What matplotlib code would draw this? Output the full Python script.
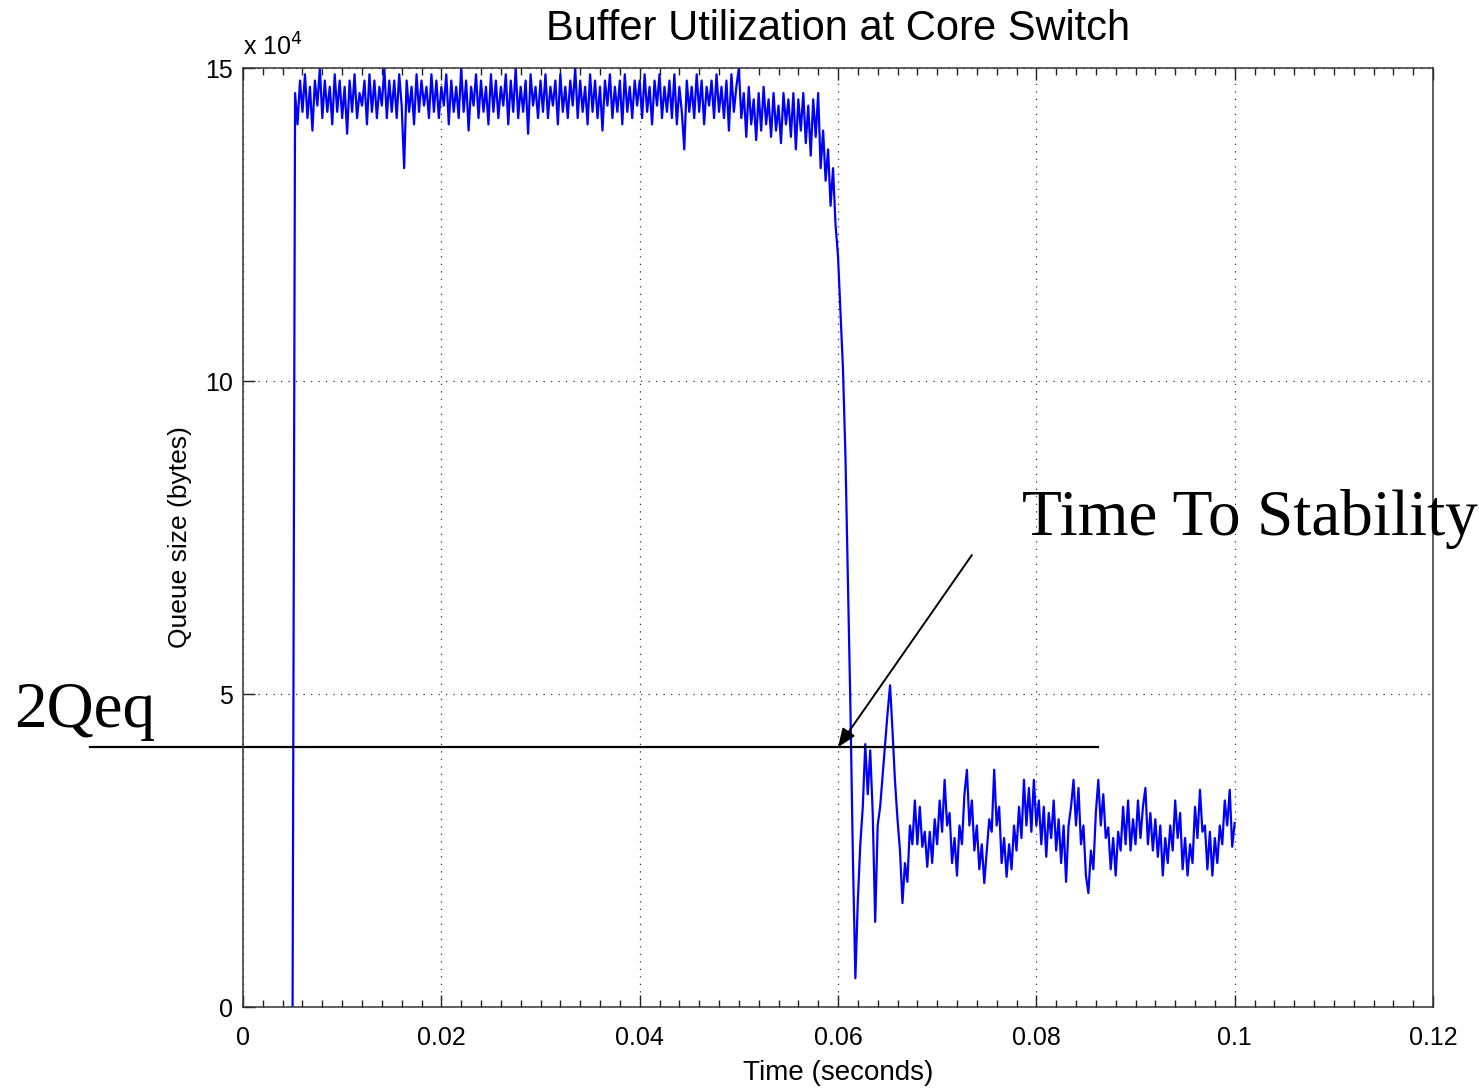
import numpy as np
import matplotlib
matplotlib.use("Agg")
import matplotlib.pyplot as plt
from matplotlib.ticker import MultipleLocator

# queue size at the core switch, in units of 10^4 bytes,
# one sample every 0.25 ms from t = 0.005 s to t = 0.1 s
t_start = 0.005
t_step = 0.00025
queue = [
    # 0.005 - 0.010
    0.0, 14.6, 14.1, 14.8, 14.3, 14.9, 14.2, 14.7, 14.0, 14.8,
    14.4, 15.0, 14.2, 14.8, 14.3, 14.7, 14.1, 14.9, 14.3, 14.8,
    # 0.010 - 0.015
    14.2, 14.7, 13.95, 14.8, 14.3, 14.9, 14.2, 14.6, 14.4, 14.8,
    14.1, 14.9, 14.3, 14.8, 14.2, 14.7, 14.4, 15.0, 14.2, 14.8,
    # 0.015 - 0.020
    14.3, 14.8, 14.2, 14.9, 14.4, 13.4, 14.8, 14.3, 14.7, 14.1,
    14.9, 14.3, 14.8, 14.4, 14.7, 14.2, 14.9, 14.3, 14.8, 14.2,
    # 0.020 - 0.025
    14.7, 14.4, 14.9, 14.1, 14.8, 14.3, 14.7, 14.2, 15.0, 14.3,
    14.8, 14.0, 14.7, 14.4, 14.9, 14.2, 14.8, 14.3, 14.7, 14.1,
    # 0.025 - 0.030
    14.9, 14.3, 14.8, 14.2, 14.7, 14.4, 14.9, 14.1, 14.8, 14.3,
    15.0, 14.2, 14.7, 14.3, 14.8, 13.95, 14.9, 14.4, 14.7, 14.2,
    # 0.030 - 0.035
    14.8, 14.3, 14.9, 14.2, 14.7, 14.4, 14.8, 14.1, 14.9, 14.3,
    14.7, 14.2, 14.8, 14.4, 15.0, 14.2, 14.8, 14.3, 14.7, 14.1,
    # 0.035 - 0.040
    14.9, 14.3, 14.8, 14.2, 14.7, 14.0, 14.8, 14.4, 14.9, 14.2,
    14.7, 14.3, 14.8, 14.1, 14.9, 14.3, 14.7, 14.2, 14.8, 14.4,
    # 0.040 - 0.045
    14.8, 14.2, 14.9, 14.3, 14.7, 14.1, 14.8, 14.4, 14.9, 14.2,
    14.7, 14.3, 14.8, 14.2, 14.9, 14.1, 14.7, 14.3, 13.7, 14.8,
    # 0.045 - 0.050
    14.3, 14.7, 14.2, 14.9, 14.3, 14.8, 14.1, 14.7, 14.4, 14.8,
    14.2, 14.9, 14.3, 14.7, 14.2, 14.8, 14.0, 14.9, 14.3, 14.7,
    # 0.050 - 0.055
    15.0, 14.2, 14.6, 13.9, 14.7, 14.1, 14.5, 13.85, 14.6, 14.0,
    14.7, 14.1, 14.5, 13.9, 14.6, 14.0, 14.4, 13.8, 14.6, 14.1,
    # 0.055 - 0.060
    14.5, 13.9, 14.6, 13.7, 14.5, 14.0, 14.6, 13.8, 14.4, 13.6,
    14.5, 13.9, 14.6, 13.4, 14.0, 13.2, 13.7, 12.8, 13.4, 12.5,
    # 0.060 - 0.065
    12.0, 11.1, 10.2, 8.8, 6.8, 4.8, 2.4, 0.46, 1.7, 2.6,
    3.2, 4.2, 3.4, 4.1, 3.1, 1.36, 2.9, 3.2, 3.7, 4.2,
    # 0.065 - 0.070
    4.7, 5.14, 4.4, 3.6, 3.0, 2.5, 1.66, 2.3, 2.0, 2.9,
    2.6, 3.3, 2.6, 3.2, 2.56, 2.8, 2.24, 2.8, 2.3, 3.0,
    # 0.070 - 0.075
    2.6, 3.3, 2.8, 3.63, 2.9, 3.1, 2.3, 2.7, 2.1, 2.9,
    2.6, 3.4, 3.79, 2.9, 3.3, 2.5, 2.9, 2.2, 2.6, 1.98,
    # 0.075 - 0.080
    2.5, 3.0, 2.8, 3.79, 2.9, 3.2, 2.3, 2.7, 2.08, 2.6,
    2.2, 2.9, 2.5, 3.2, 2.7, 3.63, 2.9, 3.5, 2.8, 3.63,
    # 0.080 - 0.085
    2.9, 3.3, 2.6, 3.2, 2.4, 3.1, 2.7, 3.3, 2.5, 3.0,
    2.3, 2.9, 2.0, 2.9, 3.2, 3.63, 2.9, 3.5, 2.6, 2.9,
    # 0.085 - 0.090
    2.1, 1.82, 2.5, 2.2, 3.1, 3.63, 2.9, 3.4, 2.7, 2.87,
    2.2, 2.7, 2.1, 2.8, 2.5, 3.2, 2.6, 3.3, 2.5, 3.0,
    # 0.090 - 0.095
    2.6, 3.3, 2.7, 3.2, 3.5, 2.6, 3.1, 2.5, 3.0, 2.4,
    2.9, 2.1, 2.7, 2.3, 2.9, 2.5, 3.3, 2.7, 3.1, 2.2,
    # 0.095 - 0.100
    2.7, 2.1, 2.6, 2.3, 3.2, 2.7, 3.47, 2.8, 2.9, 2.2,
    2.8, 2.1, 2.7, 2.3, 2.9, 2.6, 3.3, 2.9, 3.47, 2.56,
    2.94,
]
time = t_start + t_step * np.arange(len(queue))

x_ticks = [0, 0.02, 0.04, 0.06, 0.08, 0.1, 0.12]
x_tick_labels = ["0", "0.02", "0.04", "0.06", "0.08", "0.1", "0.12"]
y_ticks = [0, 5, 10, 15]

# annotation positions (data units)
qeq_level = 4.15
qeq_line_x = [-0.0154, 0.0862]
arrow_tail = (0.0735, 7.22)
arrow_head = (0.0600, 4.15)

sans = "Liberation Sans"
serif = "Liberation Serif"

fig = plt.figure(figsize=(14.79, 10.90), dpi=100)
ax = fig.add_axes([0.1643, 0.0761, 0.8046, 0.8615])

ax.plot(time, queue, color="#0000ff", linewidth=1.6)

ax.set_xlim(0, 0.12)
ax.set_ylim(0, 15)
ax.set_xticks(x_ticks)
ax.set_xticklabels(x_tick_labels, fontfamily=sans, fontsize=18)
ax.set_yticks(y_ticks)
ax.set_yticklabels([str(v) for v in y_ticks], fontfamily=sans, fontsize=18)
ax.xaxis.set_minor_locator(MultipleLocator(0.002))

ax.tick_params(axis="both", which="both", direction="in", top=True, right=False, color="#222222")
ax.tick_params(axis="both", which="major", length=8.5, width=1)
ax.tick_params(axis="x", which="minor", length=5, width=1)
ax.tick_params(axis="x", which="major", pad=14)
ax.tick_params(axis="y", which="major", pad=7)
for s in ax.spines.values():
    s.set_color("#333333")
    s.set_linewidth(1.1)

ax.grid(True, which="major", color="#333333", linestyle=(0, (1, 5)), linewidth=0.9)

ax.set_xlabel("Time (seconds)", fontfamily=sans, fontsize=20, labelpad=7)
ax.set_ylabel("Queue size (bytes)", fontfamily=sans, fontsize=19, labelpad=10)

fig.text(838 / 1479, 1 - 40 / 1090, "Buffer Utilization at Core Switch",
         ha="center", va="baseline", fontfamily=sans, fontsize=30)
fig.text(243 / 1479, 1 - 56 / 1090, r"x 10$^{4}$", ha="left", va="baseline",
         fontfamily=sans, fontsize=18)

# 2Qeq level line and "time to stability" arrow
ax.plot(qeq_line_x, [qeq_level, qeq_level], color="black", linewidth=1.6, clip_on=False)
ax.annotate("", xy=arrow_head, xytext=arrow_tail,
            arrowprops=dict(arrowstyle="-|>,head_length=0.45,head_width=0.18",
                            color="black", lw=1.4, mutation_scale=25,
                            shrinkA=0, shrinkB=0))
fig.text(14 / 1479, 1 - 727 / 1090, "2Qeq", ha="left", va="baseline",
         fontfamily=serif, fontsize=47)
fig.text(1022 / 1479, 1 - 535 / 1090, "Time To Stability", ha="left", va="baseline",
         fontfamily=serif, fontsize=47)

fig.savefig("out.png", dpi=100)
